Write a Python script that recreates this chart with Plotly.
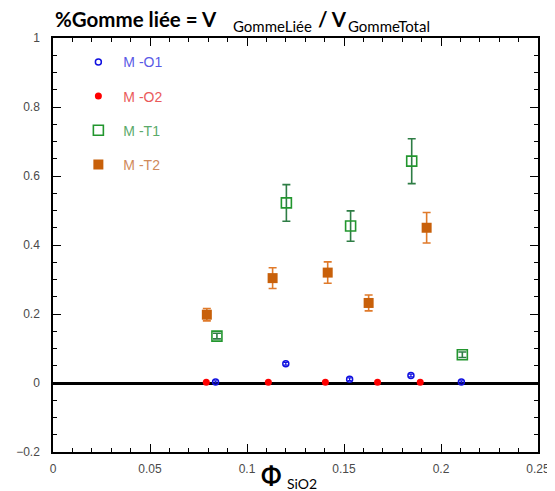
import plotly.graph_objects as go

# phi SiO2 (x) and bound rubber fraction (y)
phi_o1 = [0.0838, 0.1200, 0.1529, 0.1845, 0.2105]
gl_o1 = [0.003, 0.056, 0.011, 0.022, 0.003]
err_o1 = [0.003, 0.004, 0.004, 0.004, 0.003]

phi_o2 = [0.0790, 0.1110, 0.1404, 0.1673, 0.1893]
gl_o2 = [0.002, 0.002, 0.002, 0.002, 0.002]

phi_t1 = [0.0845, 0.1203, 0.1534, 0.1849, 0.2110]
gl_t1 = [0.136, 0.522, 0.455, 0.643, 0.082]
err_t1 = [0.008, 0.053, 0.044, 0.065, 0.008]

phi_t2 = [0.0793, 0.1132, 0.1416, 0.1627, 0.1926]
gl_t2 = [0.198, 0.304, 0.320, 0.232, 0.450]
err_t2 = [0.018, 0.030, 0.031, 0.023, 0.044]

BLUE = '#1010e0'
RED = '#ff0000'
GREEN = '#22962e'
ORANGE = '#c8600a'


def legend_name(txt, color):
    return "<span style='color:%s'>%s</span>" % (color, txt)


def note(text, x, y, size, bold=False):
    if bold:
        text = '<b>' + text + '</b>'
    return dict(text=text, xref='paper', yref='paper', x=x, y=y, xanchor='left', yanchor='middle',
                showarrow=False, font=dict(family='Lato', size=size, color='black'))


fig = go.Figure()

fig.add_trace(go.Scatter(x=phi_o1, y=gl_o1, mode='markers', name=legend_name('M -O1', '#5a5ae6'),
                         legendgroup='o1',
                         marker=dict(symbol='circle-open', size=6, color=BLUE, line=dict(width=1.5)),
                         error_y=dict(type='data', array=err_o1, color=BLUE, thickness=1.2, width=2)))
fig.add_trace(go.Scatter(x=phi_o2, y=gl_o2, mode='markers', name=legend_name('M -O2', '#ea5a5a'),
                         legendgroup='o2',
                         marker=dict(symbol='circle', size=7, color=RED)))
fig.add_trace(go.Scatter(x=phi_t1, y=gl_t1, mode='markers', name=legend_name('M -T1', '#5aaa6a'),
                         legendgroup='t1',
                         marker=dict(symbol='square-open', size=10, color=GREEN, line=dict(width=1.6)),
                         error_y=dict(type='data', array=err_t1, color='#2e7d45', thickness=1.6, width=4)))
fig.add_trace(go.Scatter(x=phi_t2, y=gl_t2, mode='markers', name=legend_name('M -T2', '#d08a5a'),
                         legendgroup='t2',
                         marker=dict(symbol='square', size=10, color=ORANGE),
                         error_y=dict(type='data', array=err_t2, color='#e07a2a', thickness=1.6, width=4)))

axis_common = dict(showgrid=False, showline=True, linecolor='black', linewidth=1.5, mirror='allticks',
                   ticks='inside', ticklen=8, tickwidth=1.2, tickcolor='black', automargin=False,
                   tickfont=dict(family='Liberation Sans, Arial', size=12, color='#4a4a4a'))

fig.update_xaxes(range=[0, 0.25], dtick=0.05, tick0=0, zeroline=False, ticklabelstandoff=5,
                 minor=dict(ticks='inside', dtick=0.01, ticklen=4, tickcolor='black'),
                 **axis_common)
fig.update_yaxes(range=[-0.2, 1], dtick=0.2, tick0=0, zeroline=True, zerolinecolor='black',
                 zerolinewidth=2.5, ticklabelstandoff=9,
                 minor=dict(ticks='inside', dtick=0.05, ticklen=4, tickcolor='black'),
                 **axis_common)

# the page body adds an 8px offset, so margins are shifted to compensate
fig.update_layout(
    width=555, height=491,
    margin=dict(l=44.7, r=24.5, t=29.7, b=47.3),
    plot_bgcolor='white', paper_bgcolor='white',
    font=dict(family='Liberation Sans, Arial'),
    legend=dict(x=0.042, y=0.98, xanchor='left', yanchor='top', bgcolor='rgba(0,0,0,0)',
                font=dict(size=14), tracegroupgap=13, itemwidth=40),
    annotations=[
        note('%Gomme liée = V', 0.0, 1.046, 20.5, bold=True),
        note('GommeLiée', 0.366, 1.028, 15),
        note('/ V', 0.542, 1.046, 20.5, bold=True),
        note('GommeTotal', 0.605, 1.028, 15),
        note('Φ', 0.425, -0.056, 24, bold=True),
        note('SiO2', 0.478, -0.077, 14),
    ],
)

fig.write_html("out.html")
